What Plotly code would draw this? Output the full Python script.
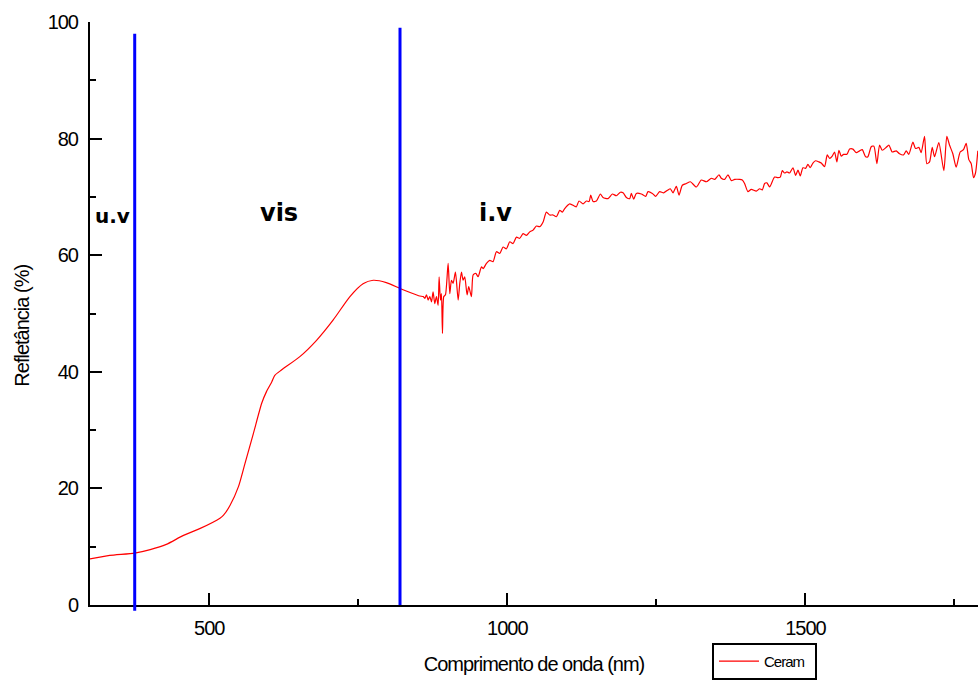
import plotly.graph_objects as go

# Reflectance spectrum of the "Ceram" sample
wavelength_nm = [
    300, 333, 375, 401, 428, 456, 484, 518, 524, 535, 549, 560, 574, 588, 596,
    605, 610, 621, 652, 680, 708, 736, 758, 775, 797, 820, 837, 853,
    858.8, 861.6, 864.4, 867.2, 870.0, 872.8, 875.5, 878.3, 881.1, 883.9, 885.6,
    887.8, 889.5, 891.2, 893.4, 896.2, 900.7, 903.5, 906.3, 909.1, 913.0, 917.5,
    920.3, 923.1, 925.8, 928.6, 932.5, 935.3, 939.8, 942.6, 947.1, 951.0, 956.6,
    959.4, 965.0, 970.5, 976.1, 981.7, 987.3, 992.9, 998.5, 1004.1, 1009.7,
    1015.3, 1020.8, 1026.4, 1032.0, 1037.6, 1043.2, 1048.8, 1054.4, 1060.0,
    1065.5, 1071.1, 1076.7, 1082.3, 1087.9,
    1092.4, 1096.3, 1104.7, 1113.0, 1115.8, 1120.3, 1127.0, 1132.6, 1137.1,
    1139.9, 1143.8, 1149.4, 1156.1, 1160.5, 1168.9, 1176.2, 1182.9, 1189.6,
    1194.1, 1199.7, 1205.3, 1208.0, 1212.0, 1216.4, 1224.8, 1232.1, 1236.0,
    1243.3, 1248.8, 1255.5, 1262.3, 1269.5, 1273.4, 1277.9, 1283.5, 1288.0,
    1293.5, 1300.3, 1307.0, 1317.0, 1325.4, 1333.8, 1342.2, 1347.7, 1355.0,
    1358.9, 1364.5, 1370.1, 1375.7, 1381.3, 1389.7, 1394.1, 1398.0, 1403.6,
    1409.2, 1417.6, 1423.2,
    1427.7, 1431.6, 1435.5, 1440.0, 1448.3, 1453.9, 1457.8, 1461.2, 1465.1,
    1469.0, 1473.5, 1479.1, 1483.6, 1487.5, 1491.4, 1495.8, 1500.3, 1504.2,
    1508.1, 1512.6, 1517.1, 1522.7, 1526.6, 1532.2, 1536.6, 1540.6, 1545.0,
    1548.9, 1552.8, 1556.2, 1560.1, 1564.0, 1569.6, 1574.1, 1579.7, 1585.3,
    1590.8, 1595.3, 1600.9, 1604.8, 1610.4, 1614.9, 1619.9, 1624.4, 1628.8,
    1635.6, 1640.0, 1645.6, 1652.3, 1657.9, 1664.6, 1669.1, 1673.5, 1680.3,
    1684.7, 1690.3, 1694.2, 1699.8, 1703.7, 1708.2, 1712.7, 1716.6, 1723.8,
    1732.2, 1737.2, 1741.7, 1747.3, 1752.9, 1759.6, 1765.2, 1769.7, 1774.1,
    1778.1, 1782.0, 1785.3, 1789.2,
]

reflectance_pct = [
    7.9, 8.5, 8.9, 9.5, 10.4, 11.9, 13.1, 14.9, 15.4, 17.1, 20.3, 24.3, 29.4,
    34.6, 36.6, 38.3, 39.4, 40.3, 42.6, 45.4, 48.9, 52.9, 55.1, 55.7, 55.3,
    54.3, 53.6, 53.0,
    52.9, 52.6, 53.2, 52.3, 52.9, 52.0, 53.7, 51.7, 52.9, 51.4, 56.3,
    52.3, 53.4, 46.6, 52.9, 53.2, 58.6, 53.4, 55.7, 55.2, 57.1, 52.3,
    55.2, 57.1, 55.7, 56.3, 53.2, 54.6, 52.9, 56.6, 56.9, 56.3, 58.0,
    57.7, 58.6, 59.1, 58.9, 60.6, 60.3, 61.4, 61.1, 62.3, 62.0,
    63.1, 62.9, 63.7, 63.4, 64.0, 64.3, 65.0, 64.9, 65.7,
    67.4, 66.9, 66.9, 66.6, 67.7,
    67.4, 68.0, 68.8, 68.4, 68.3, 69.3, 68.8, 69.3, 69.2,
    70.3, 69.2, 69.3, 70.5, 69.9, 69.7, 70.5, 70.2, 70.8,
    70.7, 69.9, 69.7, 70.6, 69.6, 70.6, 70.5, 70.1, 70.9,
    70.6, 70.1, 70.9, 70.7, 71.2, 71.4, 70.7, 71.8, 70.3,
    72.0, 72.3, 72.6, 71.7, 72.9, 72.6, 73.2, 73.0, 73.8,
    73.2, 73.0, 73.8, 72.8, 73.0, 73.0, 72.9, 72.3, 70.9,
    71.3, 71.0, 71.4,
    71.2, 72.3, 72.4, 71.7, 73.4, 73.3, 73.4, 74.5, 74.1,
    74.3, 74.1, 75.0, 73.7, 74.6, 73.6, 75.0, 74.9, 75.6,
    75.0, 75.8, 76.2, 76.0, 75.8, 75.2, 77.2, 76.6, 77.0,
    77.7, 76.0, 78.0, 77.0, 77.3, 77.3, 78.2, 78.2, 77.6,
    77.9, 78.1, 76.9, 76.9, 78.6, 78.7, 75.7, 78.9, 78.0,
    78.5, 78.9, 77.7, 77.9, 77.4, 77.2, 77.9, 77.3, 79.4,
    78.3, 78.5, 77.6, 80.4, 75.7, 76.0, 78.5, 76.9, 79.3,
    74.5, 80.4, 78.9, 77.4, 75.1, 77.7, 78.1, 79.2, 76.4,
    75.7, 73.3, 74.1, 77.9,
]

# Spectral region boundaries (nm) and the extent of each marker line (%)
boundary_nm = [375, 820]
boundary_low = [-1.0, 0.0]
boundary_high = [98.0, 99.0]

# Region labels: text, wavelength position, reflectance level, font size
region_text = ["u.v", "vis", "i.v"]
region_x = [337, 617, 980]
region_y = [66.7, 67.2, 67.2]
region_size = [20, 24, 24]

x_range = [300, 1789.5]
y_range = [0, 100]

fig = go.Figure()
fig.add_trace(go.Scatter(
    x=wavelength_nm, y=reflectance_pct, mode="lines", name="Ceram",
    line=dict(color="#ff0000", width=1.2, shape="spline", smoothing=0.6),
))


def paper_y(v):
    return (v - y_range[0]) / (y_range[1] - y_range[0])


for xb, lo, hi in zip(boundary_nm, boundary_low, boundary_high):
    fig.add_shape(type="line", xref="x", yref="paper", x0=xb, x1=xb,
                  y0=paper_y(lo), y1=paper_y(hi),
                  line=dict(color="#0000ff", width=3), layer="above")

for text, xpos, ypos, size in zip(region_text, region_x, region_y, region_size):
    fig.add_annotation(x=xpos, y=ypos, xref="x", yref="y", text=text,
                       showarrow=False,
                       font=dict(family="DejaVu Sans", size=size, color="black",
                                 weight="bold"))

fig.add_annotation(x=-0.0766, y=0.48, xref="paper", yref="paper",
                   xanchor="center", yanchor="middle",
                   text="Refletância (%)", textangle=-90, showarrow=False,
                   font=dict(family="Liberation Sans, Arial", size=20, color="black"))

axis_font = dict(family="Liberation Sans, Arial", size=20, color="black")

fig.update_xaxes(
    range=x_range, showline=True, linecolor="black", linewidth=2,
    ticks="inside", ticklen=12, tickwidth=2, tickcolor="black",
    tick0=500, dtick=500, tickfont=axis_font, showgrid=False, zeroline=False,
    minor=dict(ticks="inside", ticklen=6, tickwidth=2, tickcolor="black",
               dtick=250, tick0=250, showgrid=False),
    title=dict(text="Comprimento de onda (nm)", font=axis_font, standoff=19),
    ticklabelstandoff=4,
)
fig.update_yaxes(
    range=y_range, showline=True, linecolor="black", linewidth=2,
    ticks="inside", ticklen=12, tickwidth=2, tickcolor="black",
    tick0=0, dtick=20, tickfont=axis_font, showgrid=False, zeroline=False,
    minor=dict(ticks="inside", ticklen=6, tickwidth=2, tickcolor="black",
               dtick=10, tick0=0, showgrid=False),
    ticklabelstandoff=6,
)

fig.update_layout(
    width=978, height=682,
    margin=dict(l=90, r=0, t=22, b=77, autoexpand=False),
    paper_bgcolor="white", plot_bgcolor="white",
    showlegend=True,
    legend=dict(xref="container", yref="container", x=0.728, y=0.003,
                xanchor="left", yanchor="bottom",
                bordercolor="black", borderwidth=2, itemwidth=40,
                tracegroupgap=0,
                font=dict(family="Liberation Sans, Arial", size=15, color="black")),
)

tighten = """
document.querySelectorAll('.xtick text, .ytick text, .xtitle, .legendtext, .annotation-text').forEach(function(t){
  var s = t.textContent;
  if (s === 'u.v' || s === 'vis' || s === 'i.v') { return; }
  t.style.letterSpacing = '-1px';
});
"""

fig.write_html("out.html", post_script=tighten)
